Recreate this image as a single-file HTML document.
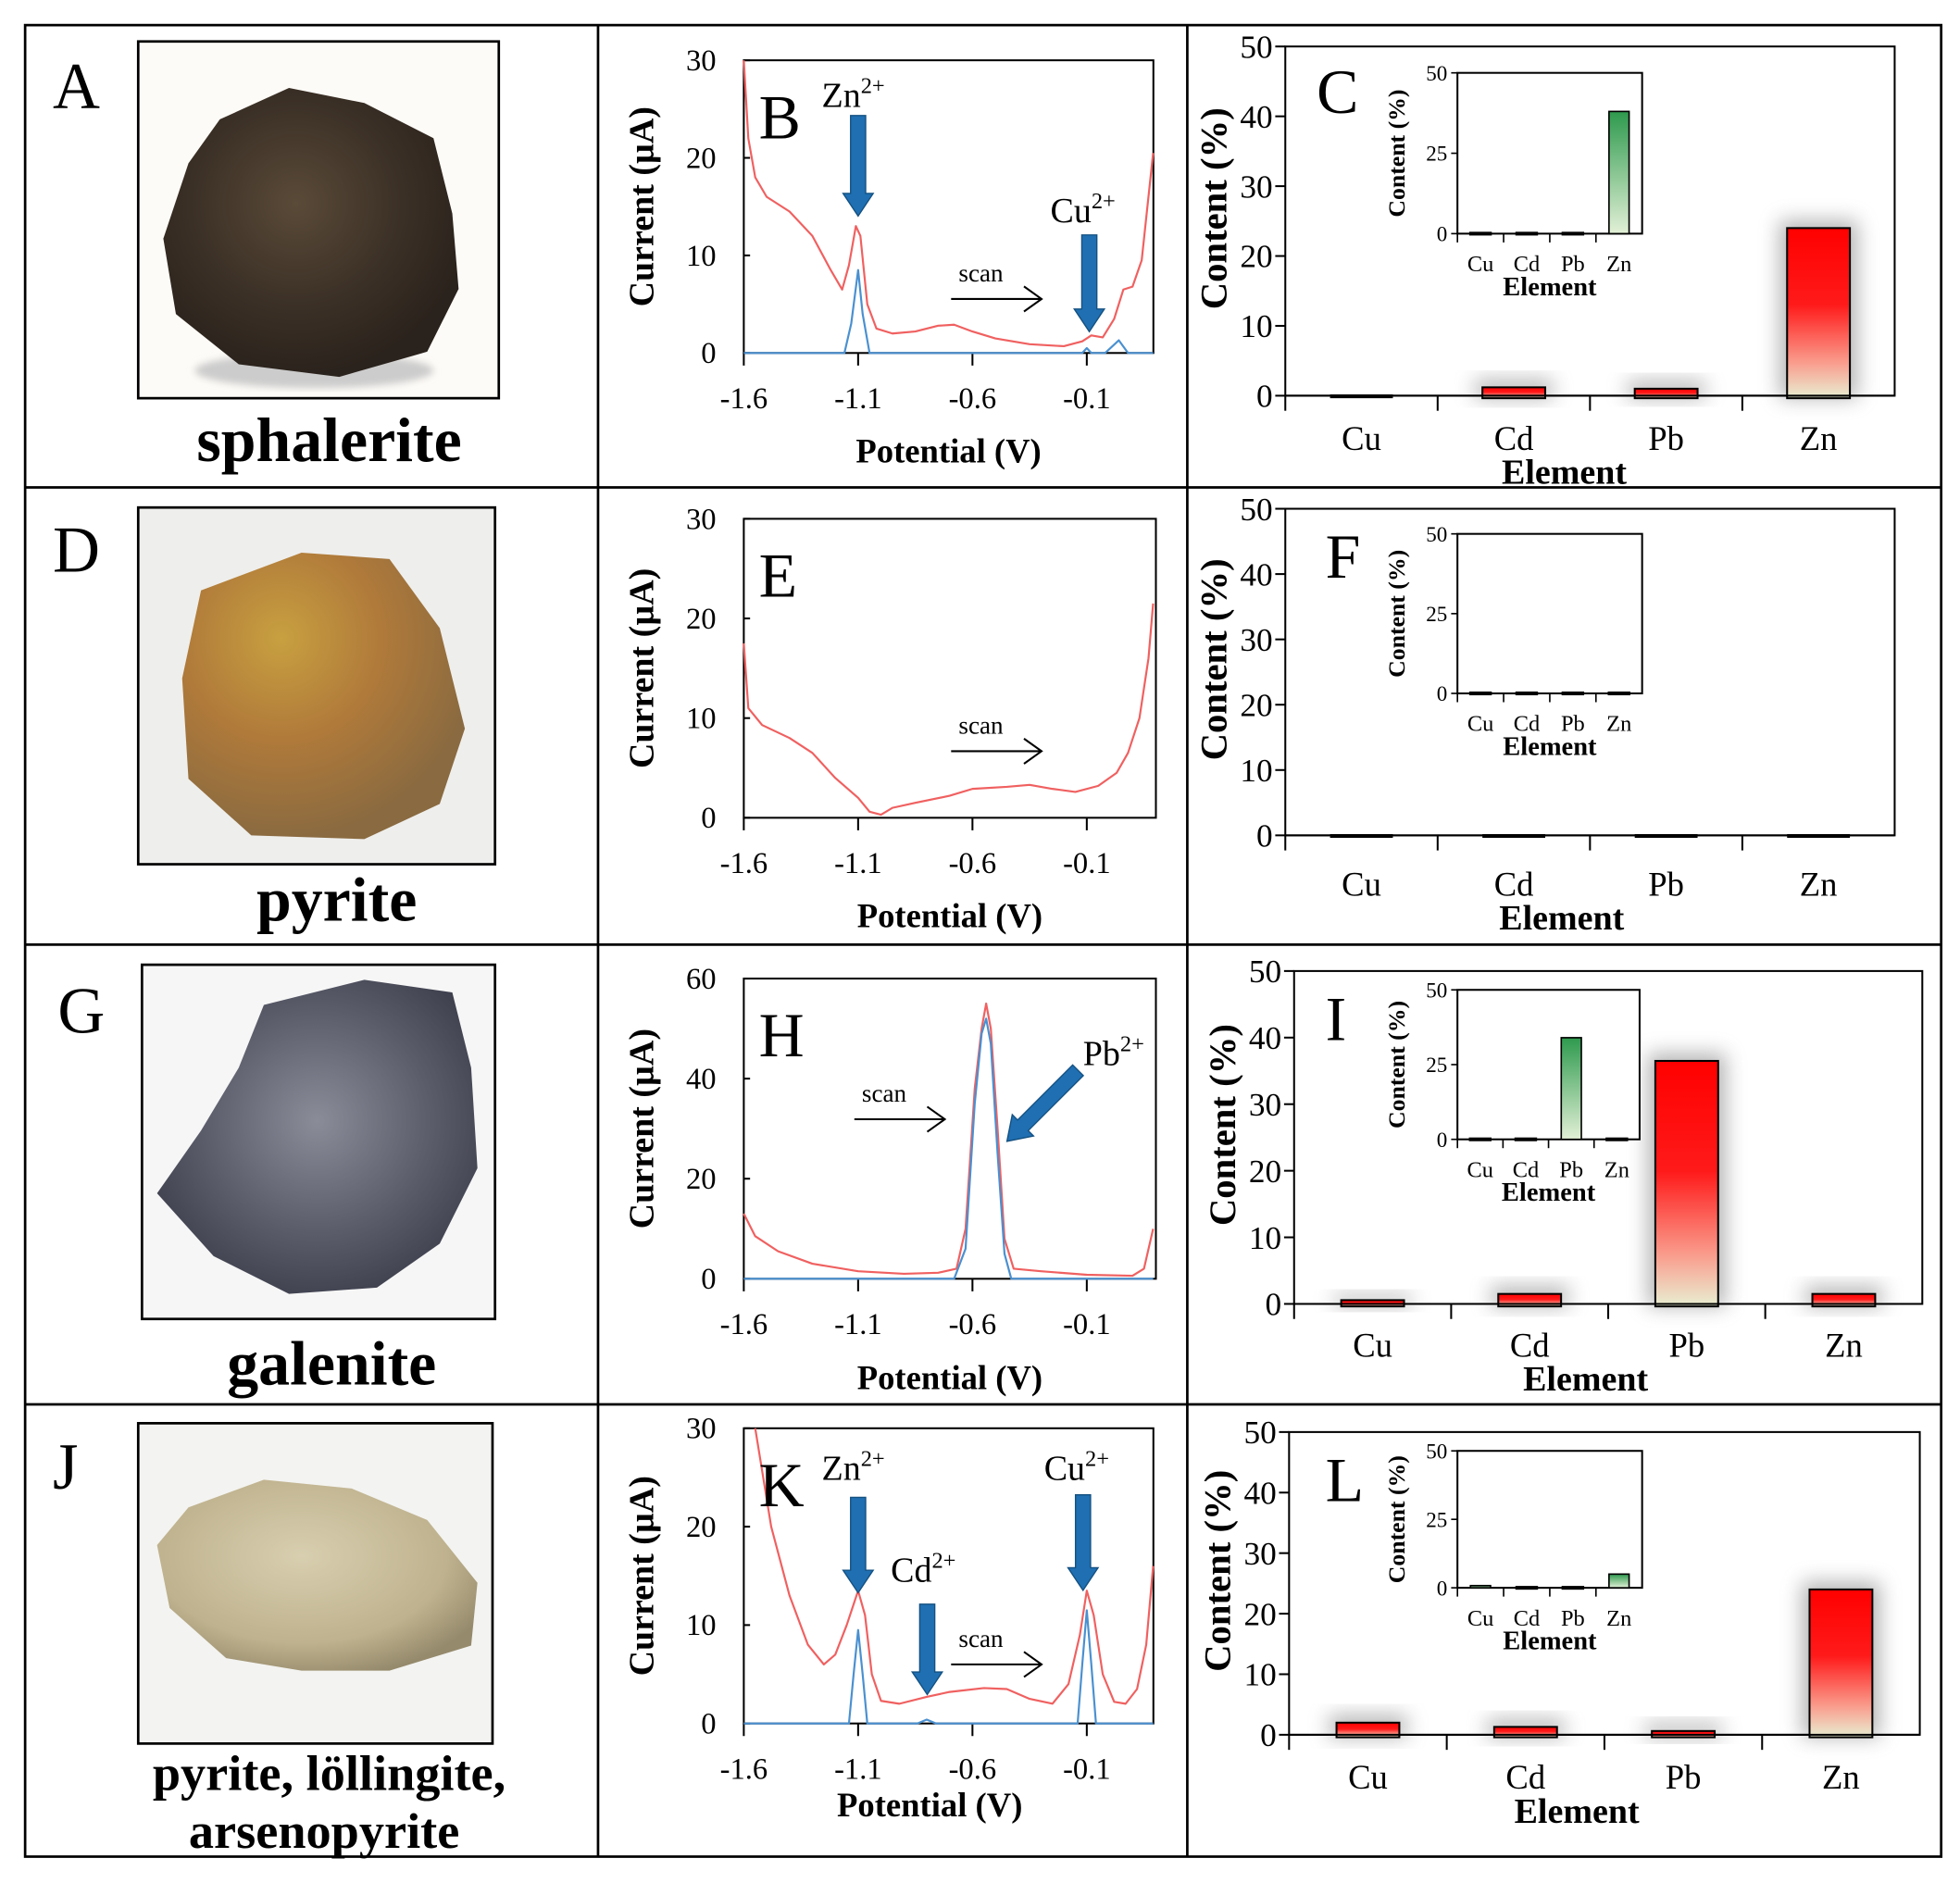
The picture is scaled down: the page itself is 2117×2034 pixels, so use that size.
<!DOCTYPE html>
<html><head><meta charset="utf-8"><style>
html,body{margin:0;padding:0;background:#fff}
svg{display:block}
text{font-family:"Liberation Serif",serif;fill:#000}
</style></head><body>
<svg id="fig" width="2117" height="2034" viewBox="0 0 1560 1499" preserveAspectRatio="none" xmlns="http://www.w3.org/2000/svg">
<defs>
<linearGradient id="redg" x1="0" y1="0" x2="0" y2="1"><stop offset="0" stop-color="#ff0000"/><stop offset="0.45" stop-color="#ff1a1a"/><stop offset="0.8" stop-color="#f9a090"/><stop offset="1" stop-color="#e8efd2"/></linearGradient>
<linearGradient id="greeng" x1="0" y1="0" x2="0" y2="1"><stop offset="0" stop-color="#2e9a4e"/><stop offset="1" stop-color="#e2f0d6"/></linearGradient>
<filter id="blur" x="-50%" y="-50%" width="200%" height="200%"><feGaussianBlur stdDeviation="8"/></filter>
<filter id="blur2"><feGaussianBlur stdDeviation="3"/></filter>
<radialGradient id="rockA" cx="0.45" cy="0.4" r="0.6"><stop offset="0" stop-color="#5a4a38"/><stop offset="0.6" stop-color="#3b3026"/><stop offset="1" stop-color="#2a221c"/></radialGradient>
<radialGradient id="rockD" cx="0.35" cy="0.3" r="0.7"><stop offset="0" stop-color="#c8a040"/><stop offset="0.5" stop-color="#b07a3a"/><stop offset="1" stop-color="#8a6a40"/></radialGradient>
<radialGradient id="rockG" cx="0.5" cy="0.45" r="0.6"><stop offset="0" stop-color="#8a8c98"/><stop offset="0.6" stop-color="#5a5c6a"/><stop offset="1" stop-color="#3c3e4c"/></radialGradient>
<radialGradient id="rockJ" cx="0.45" cy="0.4" r="0.65"><stop offset="0" stop-color="#d8cfb0"/><stop offset="0.7" stop-color="#bfb28e"/><stop offset="1" stop-color="#958a6c"/></radialGradient>
</defs>
<g id="frame" stroke="#000" stroke-width="2" fill="none">
<rect x="20" y="20" width="1525" height="1458"/>
<line x1="476" y1="20" x2="476" y2="1478"/><line x1="945" y1="20" x2="945" y2="1478"/>
<line x1="20" y1="388" x2="1545" y2="388"/><line x1="20" y1="752" x2="1545" y2="752"/><line x1="20" y1="1118" x2="1545" y2="1118"/>
</g>
<g>
<rect x="110" y="33" width="287" height="284" fill="#fdfbf7" stroke="#000" stroke-width="2"/>
<ellipse cx="250" cy="295" rx="95" ry="14" fill="#ccc" filter="url(#blur2)"/>
<path d="M175,95 L230,70 L290,82 L345,110 L360,170 L365,230 L340,280 L270,300 L190,290 L140,250 L130,190 L150,130 Z" fill="url(#rockA)"/>
</g>
<g>
<rect x="110" y="404" width="284" height="284" fill="#eeeeec" stroke="#000" stroke-width="2"/>
<path d="M160,470 L240,440 L310,445 L350,500 L370,580 L350,640 L290,668 L200,665 L150,620 L145,540 Z" fill="url(#rockD)"/>
</g>
<g>
<rect x="113" y="768" width="281" height="282" fill="#f6f6f6" stroke="#000" stroke-width="2"/>
<path d="M210,800 L290,780 L360,790 L375,850 L380,930 L350,990 L300,1025 L230,1030 L170,1000 L125,950 L160,900 L190,850 Z" fill="url(#rockG)"/>
</g>
<g>
<rect x="110" y="1133" width="282" height="255" fill="#f3f3f1" stroke="#000" stroke-width="2"/>
<path d="M150,1200 L210,1178 L280,1185 L340,1210 L380,1260 L375,1310 L310,1330 L240,1330 L180,1320 L135,1280 L125,1230 Z" fill="url(#rockJ)"/>
</g>
<g font-size="52">
<text x="42" y="86">A</text>
<text x="42" y="455">D</text>
<text x="46" y="822">G</text>
<text x="42" y="1185">J</text>
</g>
<g font-weight="bold" text-anchor="middle">
<text x="262" y="367" font-size="50">sphalerite</text>
<text x="268" y="733" font-size="50">pyrite</text>
<text x="264" y="1102" font-size="50">galenite</text>
<text x="262" y="1425" font-size="40">pyrite, löllingite,</text>
<text x="258" y="1471" font-size="40">arsenopyrite</text>
</g>
<g id="charts"></g>
</svg>
<script>
const potB_red=[-1.6,-1.58,-1.55,-1.5,-1.4,-1.3,-1.22,-1.17,-1.14,-1.11,-1.09,-1.06,-1.02,-0.95,-0.85,-0.75,-0.68,-0.6,-0.5,-0.35,-0.2,-0.12,-0.08,-0.03,0.02,0.06,0.1,0.14,0.19];
const curB_red=[30,22,18,16,14.5,12,8.5,6.5,9,13,12,5,2.5,2,2.2,2.8,2.9,2.2,1.5,0.9,0.7,1.2,1.8,1.6,3.5,6.5,6.8,9.5,20.5];
const potB_blue=[-1.6,-1.16,-1.13,-1.1,-1.08,-1.05,-0.12,-0.1,-0.08,-0.02,0.04,0.08,0.19];
const curB_blue=[0,0,3,8.5,4,0,0,0.5,0,0,1.3,0,0];
const potE_red=[-1.6,-1.58,-1.52,-1.4,-1.3,-1.2,-1.1,-1.05,-1.0,-0.95,-0.85,-0.7,-0.6,-0.45,-0.35,-0.25,-0.15,-0.05,0.03,0.08,0.13,0.17,0.19];
const curE_red=[17.5,11,9.3,8,6.5,4,2,0.6,0.3,1,1.5,2.2,2.9,3.1,3.3,2.9,2.6,3.2,4.5,6.5,10,16,21.5];
const potH_red=[-1.6,-1.55,-1.45,-1.3,-1.1,-0.9,-0.75,-0.67,-0.63,-0.59,-0.56,-0.54,-0.52,-0.49,-0.46,-0.42,-0.3,-0.1,0.1,0.15,0.19];
const curH_red=[13,8.5,5.5,3,1.5,1,1.2,2,10,38,50,55,50,30,8,2,1.5,0.8,0.6,2,10];
const potH_blue=[-1.6,-0.68,-0.63,-0.59,-0.56,-0.54,-0.52,-0.49,-0.46,-0.43,0.19];
const curH_blue=[0,0,6,35,49,52,47,25,5,0,0];
const potK_red=[-1.55,-1.48,-1.4,-1.32,-1.25,-1.2,-1.15,-1.1,-1.07,-1.04,-1.0,-0.92,-0.8,-0.7,-0.55,-0.45,-0.35,-0.25,-0.18,-0.13,-0.1,-0.07,-0.03,0.02,0.07,0.12,0.16,0.19];
const curK_red=[30,20,13,8,6,7,10,13.5,11,5,2.3,2,2.7,3.2,3.6,3.5,2.5,2,4,9,13.5,11,5,2.2,2,3.5,8,16];
const potK_blue=[-1.6,-1.14,-1.12,-1.1,-1.08,-1.06,-0.84,-0.8,-0.76,-0.14,-0.12,-0.1,-0.08,-0.06,0.19];
const curK_blue=[0,0,5,9.5,5,0,0,0.4,0,0,6,11.5,6,0,0];
const elements=["Cu","Cd","Pb","Zn"];
const contentC=[0,1.2,1,24];   const insetC=[0,0,0,38];
const contentF=[0,0,0,0];      const insetF=[0,0,0,0];
const contentI=[0.2,1.5,36.5,1.5]; const insetI=[0,0,34,0];
const contentL=[2,1.3,0.6,24]; const insetL=[0.8,0,0,5];
const xTicksV=["-1.6","-1.1","-0.6","-0.1"];
const yTicks30=[0,10,20,30]; const yTicks60=[0,20,40,60];
const yTicks50=[0,10,20,30,40,50]; const yTicksInset=[0,25,50];

const NS="http://www.w3.org/2000/svg";
const root=document.getElementById('charts');
function el(tag,attrs,parent,txt){const e=document.createElementNS(NS,tag);for(const k in attrs)e.setAttribute(k,attrs[k]);if(txt!==undefined)e.textContent=txt;(parent||root).appendChild(e);return e;}

function lineChart(cfg){
  const g=el('g',{});
  
  
  const {x0,x1,y0,y1,ymax}=cfg;
  const sx=v=>x0+(v+1.6)/0.5*91;
  const sy=v=>y1-(v/ymax)*(y1-y0);
  const fr=el('rect',{x:x0,y:y0,width:x1-x0,height:y1-y0,fill:'none',stroke:'#000','stroke-width':1.5},g);
  
  
  cfg.yt.forEach(t=>{
    el('line',{x1:x0,x2:x0+5,y1:sy(t),y2:sy(t),stroke:'#000','stroke-width':1.5},g);
    const tx=el('text',{x:x0-22,y:sy(t)+8,'font-size':24,'text-anchor':'end'},g,String(t));
    
    
  });
  xTicksV.forEach(t=>{
    const v=parseFloat(t);
    el('line',{x1:sx(v),x2:sx(v),y1:y1,y2:y1+10,stroke:'#000','stroke-width':1.5},g);
    const tx=el('text',{x:sx(v),y:y1+44,'font-size':24,'text-anchor':'middle'},g,t);
    
    
  });
  const xl=el('text',{x:cfg.xlx,y:cfg.xly,'font-size':27,'font-weight':'bold','text-anchor':'middle'},g,'Potential (V)');
  
  
  const yc=(y0+y1)/2;
  const yl=el('text',{x:0,y:0,'font-size':28,'font-weight':'bold','text-anchor':'middle',transform:`translate(${x0-72},${yc}) rotate(-90)`},g,'Current  (µA)');
  
  
  cfg.series.forEach(s=>{
    const pts=s.x.map((v,i)=>sx(v).toFixed(1)+','+Math.max(y0,sy(s.y[i])).toFixed(1)).join(' ');
    const p=el('polyline',{points:pts,fill:'none',stroke:s.c,'stroke-width':1.6,'stroke-linejoin':'round'},g);
    
    
  });
  const pl=el('text',{x:x0+12,y:y0+62,'font-size':50},g,cfg.letter);
  
  
  (cfg.arrows||[]).forEach(a=>{
    const ag=el('g',{transform:`translate(${a.x},${a.y}) rotate(${a.r||0})`},g);
    
    
    el('polygon',{points:`-6,0 6,0 6,${a.l-18} 12,${a.l-18} 0,${a.l} -12,${a.l-18} -6,${a.l-18}`,fill:'#1f6fb2',stroke:'#145080','stroke-width':1},ag);
  });
  (cfg.ions||[]).forEach(t=>{
    const tx=el('text',{x:t.x,y:t.y,'font-size':28},g);
    
    
    tx.appendChild(document.createTextNode(t.t));
    el('tspan',{dy:-11,'font-size':18},tx,'2+');
  });
  if(cfg.scan){
    const s=cfg.scan;
    const st=el('text',{x:s.x+6,y:s.y-14,'font-size':20},g,'scan');
    
    
    const sa=el('path',{d:`M${s.x},${s.y} H${s.x+72} M${s.x+58},${s.y-10} L${s.x+72},${s.y} L${s.x+58},${s.y+10}`,fill:'none',stroke:'#000','stroke-width':1.5},g);
    
    
  }
}

function barChart(cfg){
  const g=el('g',{});
  
  
  const {x0,x1,y0,y1}=cfg;
  const sy=v=>y1-(v/50)*(y1-y0);
  const cw=(x1-x0)/4;
  const cx=i=>x0+cw*(i+0.5);
  el('rect',{x:x0,y:y0,width:x1-x0,height:y1-y0,fill:'none',stroke:'#000','stroke-width':1.5},g);
  yTicks50.forEach(t=>{
    el('line',{x1:x0-8,x2:x0,y1:sy(t),y2:sy(t),stroke:'#000','stroke-width':1.5},g);
    const tx=el('text',{x:x0-10,y:sy(t)+9,'font-size':26,'text-anchor':'end'},g,String(t));
    
    
  });
  for(let i=0;i<4;i++) el('line',{x1:x0+cw*i,x2:x0+cw*i,y1:y1,y2:y1+12,stroke:'#000','stroke-width':1.5},g);
  elements.forEach((e,i)=>{
    const v=cfg.vals[i];
    const bw=50;
    if(v>0.05){
      el('rect',{x:cx(i)-bw/2-6,y:sy(v)-6,width:bw+12,height:(y1-sy(v))+8,fill:'#777',opacity:0.55,filter:'url(#blur)'},g);
      const b=el('rect',{x:cx(i)-bw/2,y:Math.min(sy(v),y1-3),width:bw,height:Math.max(y1-sy(v),3)+2,fill:'url(#redg)',stroke:'#000','stroke-width':1.5},g);
      
      
    } else {
      const b=el('rect',{x:cx(i)-bw/2,y:sy(v)-1,width:bw,height:3,fill:'#000'},g);
      
      
    }
    const tx=el('text',{x:cx(i),y:cfg.ly,'font-size':27,'text-anchor':'middle'},g,e);
    
    
  });
  el('line',{x1:x0,x2:x1,y1:y1,y2:y1,stroke:'#000','stroke-width':1.5},g);
  const xl=el('text',{x:cfg.ex,y:cfg.ly+27,'font-size':28,'font-weight':'bold','text-anchor':'middle'},g,'Element');
  
  
  const yl=el('text',{x:0,y:0,'font-size':30,'font-weight':'bold','text-anchor':'middle',transform:`translate(${x0-47},${(y0+y1)/2-10}) rotate(-90)`},g,'Content (%)');
  
  
  const pl=el('text',{x:cfg.lx,y:cfg.lyL,'font-size':50},g,cfg.letter);
  
  
  const ig=el('g',{},g);
  
  
  const I=cfg.inset;
  const isy=v=>I.y1-(v/50)*(I.y1-I.y0);
  const icw=(I.x1-I.x0)/4;
  el('rect',{x:I.x0,y:I.y0,width:I.x1-I.x0,height:I.y1-I.y0,fill:'#fff',stroke:'#000','stroke-width':1.5},ig);
  yTicksInset.forEach(t=>{
    el('line',{x1:I.x0-5,x2:I.x0,y1:isy(t),y2:isy(t),stroke:'#000','stroke-width':1.2},ig);
    el('text',{x:I.x0-8,y:isy(t)+6,'font-size':17,'text-anchor':'end'},ig,String(t));
  });
  elements.forEach((e,i)=>{
    const v=cfg.ivals[i];
    const bx=I.x0+icw*(i+0.5);
    let b;
    if(v>0.3){
      b=el('rect',{x:bx-8,y:isy(v),width:16,height:I.y1-isy(v),fill:'url(#greeng)',stroke:'#000','stroke-width':1.2},ig);
    } else {
      b=el('rect',{x:bx-9,y:isy(v)-1.5,width:18,height:3,fill:'#000'},ig);
    }
    
    
    el('line',{x1:I.x0+icw*i,x2:I.x0+icw*i,y1:I.y1,y2:I.y1+7,stroke:'#000','stroke-width':1.2},ig);
    el('text',{x:bx,y:I.y1+30,'font-size':18,'text-anchor':'middle'},ig,e);
  });
  el('text',{x:(I.x0+I.x1)/2,y:I.y1+49,'font-size':21,'font-weight':'bold','text-anchor':'middle'},ig,'Element');
  el('text',{x:0,y:0,'font-size':19,'font-weight':'bold','text-anchor':'middle',transform:`translate(${I.x0-42},${(I.y0+I.y1)/2}) rotate(-90)`},ig,'Content (%)');
}

lineChart({name:'chart-b-voltammogram',letter:'B',x0:592,x1:918,y0:48,y1:281,ymax:30,yt:yTicks30,xlx:755,xly:368,
  series:[{x:potB_red,y:curB_red,c:'#f06060',n:'series-sample-red'},{x:potB_blue,y:curB_blue,c:'#4a90d0',n:'series-baseline-blue'}],
  arrows:[{x:683,y:92,l:80},{x:867,y:187,l:77}],ions:[{x:654,y:85,t:'Zn'},{x:836,y:177,t:'Cu'}],scan:{x:757,y:238}});
lineChart({name:'chart-e-voltammogram',letter:'E',x0:592,x1:920,y0:413,y1:651,ymax:30,yt:yTicks30,xlx:756,xly:738,
  series:[{x:potE_red,y:curE_red,c:'#f06060',n:'series-sample-red'}],scan:{x:757,y:598}});
lineChart({name:'chart-h-voltammogram',letter:'H',x0:592,x1:920,y0:779,y1:1018,ymax:60,yt:yTicks60,xlx:756,xly:1106,
  series:[{x:potH_red,y:curH_red,c:'#f06060',n:'series-sample-red'},{x:potH_blue,y:curH_blue,c:'#4a90d0',n:'series-baseline-blue'}],
  arrows:[{x:858,y:852,l:80,r:45}],ions:[{x:862,y:848,t:'Pb'}],scan:{x:680,y:891}});
lineChart({name:'chart-k-voltammogram',letter:'K',x0:592,x1:918,y0:1137,y1:1372,ymax:30,yt:yTicks30,xlx:740,xly:1446,
  series:[{x:potK_red,y:curK_red,c:'#f06060',n:'series-sample-red'},{x:potK_blue,y:curK_blue,c:'#4a90d0',n:'series-baseline-blue'}],
  arrows:[{x:683,y:1192,l:76},{x:738,y:1277,l:72},{x:862,y:1190,l:76}],
  ions:[{x:654,y:1178,t:'Zn'},{x:709,y:1259,t:'Cd'},{x:831,y:1178,t:'Cu'}],scan:{x:757,y:1325}});

barChart({name:'chart-c-content',letter:'C',x0:1023,x1:1508,y0:37,y1:315,vals:contentC,ivals:insetC,ly:358,ex:1245,lx:1048,lyL:90,
  inset:{x0:1160,x1:1307,y0:58,y1:186}});
barChart({name:'chart-f-content',letter:'F',x0:1023,x1:1508,y0:405,y1:665,vals:contentF,ivals:insetF,ly:713,ex:1243,lx:1055,lyL:460,
  inset:{x0:1160,x1:1307,y0:425,y1:552}});
barChart({name:'chart-i-content',letter:'I',x0:1030,x1:1530,y0:773,y1:1038,vals:contentI,ivals:insetI,ly:1080,ex:1262,lx:1055,lyL:828,
  inset:{x0:1160,x1:1305,y0:788,y1:907}});
barChart({name:'chart-l-content',letter:'L',x0:1026,x1:1528,y0:1140,y1:1381,vals:contentL,ivals:insetL,ly:1424,ex:1255,lx:1055,lyL:1195,
  inset:{x0:1160,x1:1307,y0:1155,y1:1264}});
</script>
</body></html>
